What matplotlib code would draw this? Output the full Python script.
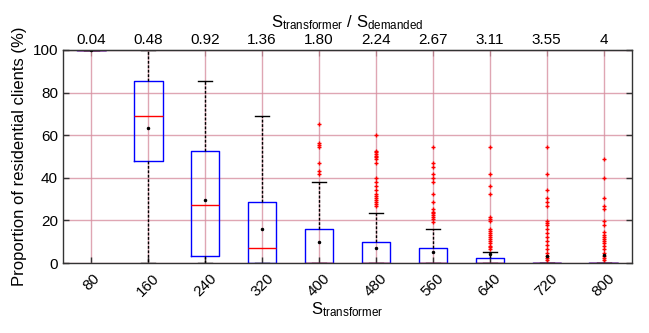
import matplotlib
matplotlib.use("Agg")
import matplotlib.pyplot as plt

plt.rcParams['font.family'] = ['Liberation Sans', 'DejaVu Sans']
plt.rcParams['font.size'] = 11

# transformer sizes and ratio to demanded power
sizes = ['80', '160', '240', '320', '400', '480', '560', '640', '720', '800']
ratios = ['0.04', '0.48', '0.92', '1.36', '1.80', '2.24', '2.67', '3.11', '3.55', '4']

# box statistics (% of residential clients)
q1 = [100, 48.0, 3.3, 0, 0, 0, 0, 0, 0, 0]
med = [100, 68.9, 27.1, 6.9, 0, 0, 0, 0, 0, 0]
q3 = [100, 85.4, 52.6, 28.8, 16.0, 9.9, 6.9, 2.5, 0, 0]
whislo = [100, 0, 0, 0, 0, 0, 0, 0, 0, 0]
whishi = [100, 100, 85.4, 69.0, 38.0, 23.5, 16.1, 5.0, 0, 0]
means = [100, 63.2, 29.4, 15.8, 10.0, 7.0, 5.0, 4.4, 3.4, 3.8]

fliers = [
    [],
    [],
    [],
    [],
    [65.3, 56.2, 55.4, 54.3, 47.1, 43.3, 41.6],
    [60.0, 52.7, 52.0, 51.2, 50.4, 49.6, 48.7, 47.1, 39.9, 38.0, 36.2, 34.3,
     32.4, 31.6, 30.7, 29.7, 28.8, 27.8, 26.9],
    [54.3, 47.1, 45.2, 41.6, 39.8, 37.9, 32.4, 28.8, 25.2, 24.1, 23.3, 22.5,
     21.5, 20.5, 19.4],
    [54.3, 41.6, 36.2, 32.4, 21.7, 20.7, 19.7, 16.0, 15.0, 14.1, 13.1, 12.2,
     11.3, 10.3, 9.2, 8.1, 7.4, 6.6],
    [54.3, 41.6, 34.3, 30.7, 28.8, 26.9, 19.7, 18.6, 17.8, 16.0, 14.1, 12.2,
     10.3, 8.5, 6.6, 4.8, 3.4, 2.4, 1.4],
    [49.0, 39.8, 30.7, 26.9, 25.2, 19.7, 17.8, 14.4, 13.1, 12.2, 11.3, 10.3,
     9.2, 8.1, 6.6, 4.8, 3.4, 2.4, 1.4],
]

stats = []
for i in range(len(sizes)):
    stats.append({'q1': q1[i], 'med': med[i], 'q3': q3[i],
                  'whislo': whislo[i], 'whishi': whishi[i],
                  'mean': means[i], 'fliers': fliers[i]})

fig = plt.figure(figsize=(6.49, 3.33), dpi=100)
ax = fig.add_axes([0.097, 0.21, 0.877, 0.64])

pos = list(range(1, len(sizes) + 1))
ax.grid(True, color='#d890a0', linewidth=1, alpha=0.8)
ax.set_axisbelow(True)

ax.bxp(stats, positions=pos, widths=0.5, showmeans=True,
       boxprops=dict(color='blue', linewidth=1),
       medianprops=dict(color='red', linewidth=1),
       whiskerprops=dict(color='black', linewidth=1, linestyle=(0, (2, 1.2))),
       capprops=dict(color='black', linewidth=1),
       flierprops=dict(marker='+', markeredgecolor='red', markersize=3.5,
                       markeredgewidth=1),
       meanprops=dict(marker='.', markerfacecolor='black',
                      markeredgecolor='black', markersize=3))

ax.set_xlim(0.5, 10.5)
ax.set_ylim(0, 100)
ax.set_yticks([0, 20, 40, 60, 80, 100])
ax.set_xticks(pos)
ax.set_xticklabels(sizes, rotation=45, ha='center')
ax.tick_params(direction='in', length=4, color='#333333', right=True,
               width=1)
ax.tick_params(axis='x', pad=6)
for s in ax.spines.values():
    s.set_color('#333333')
    s.set_linewidth(1)

ax.set_xlabel(r'$\mathregular{S_{transformer}}$', fontsize=12, labelpad=1)
ax.set_ylabel('Proportion of residential clients (%)', fontsize=12)

top = ax.secondary_xaxis('top')
top.set_xticks(pos)
top.set_xticklabels(ratios)
top.tick_params(direction='in', length=4, color='#333333', pad=2)
top.set_xlabel(r'$\mathregular{S_{transformer}}$ / $\mathregular{S_{demanded}}$',
               fontsize=12, labelpad=4)

fig.savefig('out.png', dpi=100)
